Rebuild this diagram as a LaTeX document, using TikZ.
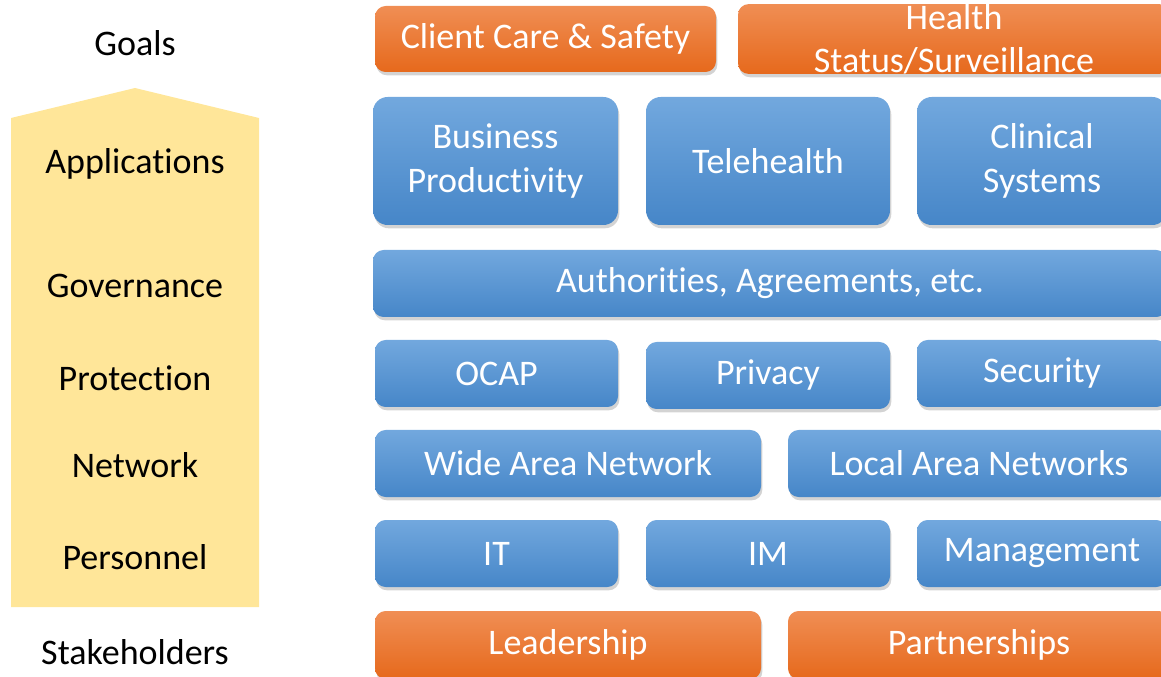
\documentclass[tikz,border=0pt]{standalone}
\usepackage{fontspec}
\setmainfont{Carlito}[Ligatures=NoCommon]
\usetikzlibrary{shadows}

\definecolor{arrowyellow}{RGB}{255,230,153}
\definecolor{bluetop}{RGB}{114,168,222}
\definecolor{bluebot}{RGB}{70,134,200}
\definecolor{orangetop}{RGB}{240,142,84}
\definecolor{orangebot}{RGB}{230,105,28}

\tikzset{
  layer/.style={rounded corners=8pt, align=center, text=white, inner sep=0pt,
    font=\fontsize{27}{32.5}\selectfont,
    drop shadow={shadow xshift=1pt, shadow yshift=-2.5pt, opacity=0.35}},
  bluebox/.style={layer, top color=bluetop, bottom color=bluebot},
  orangebox/.style={layer, top color=orangetop, bottom color=orangebot},
  tag/.style={font=\fontsize{27}{32}\selectfont, text=black}
}

\begin{document}
\begin{tikzpicture}[x=0.75pt, y=-0.75pt]
\useasboundingbox (0,0) rectangle (1161,677);
\begin{scope}
\clip (0,0) rectangle (1161,677);

% arrow on the left
\fill[arrowyellow] (11,118) -- (135,88) -- (259,118) -- (259,607) -- (11,607) -- cycle;

\node[tag] (goals) at (135,43) {Goals};
\node[tag] (apps) at (135,164) {Applications};
\node[tag] (gov) at (135,286) {Governance};
\node[tag] (prot) at (135,378) {Protection};
\node[tag] (net) at (135,465) {Network};
\node[tag] (pers) at (135,557) {Personnel};
\node[tag] (stake) at (135,652) {Stakeholders};

% goals
\node[orangebox, minimum width=255.75pt, minimum height=49.5pt] (care) at (545.5,39) {Client Care \& Safety};
\node[orangebox, minimum width=324pt, minimum height=49.5pt] (health) at (954,39) {Health\\Status/Surveillance};

% applications
\node[bluebox, rounded corners=11pt, minimum width=183.75pt, minimum height=96pt] (busprod) at (495.5,161) {Business\\Productivity};
\node[bluebox, rounded corners=11pt, minimum width=183pt, minimum height=96pt] (tele) at (768,161) {Telehealth};
\node[bluebox, rounded corners=11pt, minimum width=187.5pt, minimum height=96pt] (clin) at (1042,161) {Clinical\\Systems};

% governance
\node[bluebox, minimum width=595.5pt, minimum height=50.25pt] (auth) at (770,283.5) {Authorities, Agreements, etc.};

% protection
\node[bluebox, minimum width=182.25pt, minimum height=50.25pt] (ocap) at (496.5,373.5) {OCAP};
\node[bluebox, minimum width=183pt, minimum height=50.25pt] (priv) at (768,375.5) {Privacy};
\node[bluebox, minimum width=187.5pt, minimum height=50.25pt] (sec) at (1042,373.5) {Security};

% network
\node[bluebox, minimum width=289.5pt, minimum height=50.25pt] (wan) at (568,463.5) {Wide Area Network};
\node[bluebox, minimum width=286.5pt, minimum height=50.25pt] (lan) at (979,463.5) {Local Area Networks};

% personnel
\node[bluebox, minimum width=182.25pt, minimum height=50.25pt] (it) at (496.5,553.5) {IT};
\node[bluebox, minimum width=183pt, minimum height=50.25pt] (im) at (768,553.5) {IM};
\node[bluebox, minimum width=187.5pt, minimum height=50.25pt] (mgmt) at (1042,553.5) {Management};

% stakeholders
\node[orangebox, minimum width=289.5pt, minimum height=51pt] (lead) at (568,645) {Leadership};
\node[orangebox, minimum width=286.5pt, minimum height=51pt] (part) at (979,645) {Partnerships};
\end{scope}
\end{tikzpicture}
\end{document}
